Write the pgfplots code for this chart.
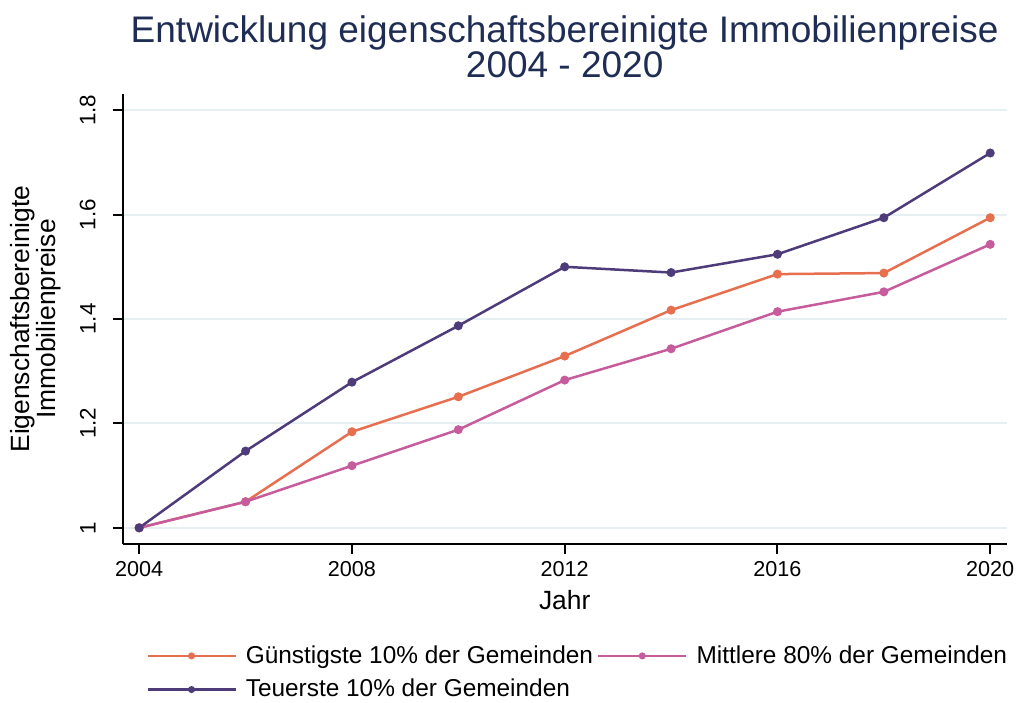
\documentclass[border=0pt]{standalone}
\usepackage{fontspec}
\setmainfont{Liberation Sans}
\usepackage{pgfplots}
\pgfplotsset{compat=1.18}
\definecolor{teuer}{HTML}{4D3B7A}
\definecolor{guenst}{HTML}{E66F50}
\definecolor{mittel}{HTML}{C65C9C}
\definecolor{titlenavy}{HTML}{1F2D55}
\definecolor{gridc}{HTML}{E6EFF1}

\begin{document}
\begin{tikzpicture}
\path[use as bounding box] (0,0) rectangle (510.5pt,351pt);
\begin{axis}[
    at={(61.35pt,79pt)}, anchor=south west,
    scale only axis,
    width=442pt, height=225pt,
    xmin=2003.69, xmax=2020.31,
    ymin=0.969, ymax=1.831,
    xtick={2004,2008,2012,2016,2020},
    ytick={1,1.2,1.4,1.6,1.8},
    xticklabel style={/pgf/number format/1000 sep={}},
    /pgf/number format/assume math mode=true,
    axis lines*=left,
    axis line style={black, line width=1pt},
    tick style={black, line width=1pt},
    tick align=outside,
    major tick length=5pt,
    ymajorgrids,
    grid style={gridc, line width=1pt},
    ticklabel style={font=\fontsize{10.8}{12}\selectfont},
    yticklabel style={rotate=90, anchor=south, font=\fontsize{11.2}{12}\selectfont},
    yticklabel shift=5pt,
    xlabel={Jahr},
    ylabel={Eigenschaftsbereinigte\\Immobilienpreise},
    label style={font=\fontsize{13.2}{13.2}\selectfont},
    ylabel style={align=center},
    ylabel shift=2.5pt,
    title={Entwicklung eigenschaftsbereinigte Immobilienpreise\\2004 - 2020},
    title style={align=center, text=titlenavy, font=\fontsize{18.5}{17.5}\selectfont,
        at={(0.5,1)}, anchor=south, yshift=-1.5pt},
    legend style={draw=none, at={(0.5,-0.207)}, anchor=north, xshift=7pt,
        font=\fontsize{12.2}{13}\selectfont, legend columns=2,
        /tikz/every odd column/.append style={column sep=2.5pt},
        /tikz/every even column/.append style={column sep=0pt},
        row sep=2.5pt},
    legend cell align=left,
    legend image code/.code={\draw[#1] (0pt,0pt) -- (44pt,0pt);
        \fill[#1] (22pt,0pt) circle (1.1pt);},
    every axis plot/.append style={line width=1.25pt, mark=*, mark size=1.6pt},
]
\addplot[guenst, mark options={fill=guenst, draw=guenst}] coordinates {
(2004,1.000) (2006,1.050) (2008,1.184) (2010,1.251) (2012,1.329)
(2014,1.417) (2016,1.486) (2018,1.488) (2020,1.594)};
\addplot[mittel, mark options={fill=mittel, draw=mittel}] coordinates {
(2004,1.000) (2006,1.050) (2008,1.119) (2010,1.188) (2012,1.283)
(2014,1.343) (2016,1.414) (2018,1.452) (2020,1.543)};
\addplot[teuer, mark options={fill=teuer, draw=teuer}] coordinates {
(2004,1.000) (2006,1.147) (2008,1.279) (2010,1.387) (2012,1.500)
(2014,1.489) (2016,1.524) (2018,1.594) (2020,1.718)};
\legend{Günstigste 10\% der Gemeinden, Mittlere 80\% der Gemeinden, Teuerste 10\% der Gemeinden}
\end{axis}
\end{tikzpicture}
\end{document}
